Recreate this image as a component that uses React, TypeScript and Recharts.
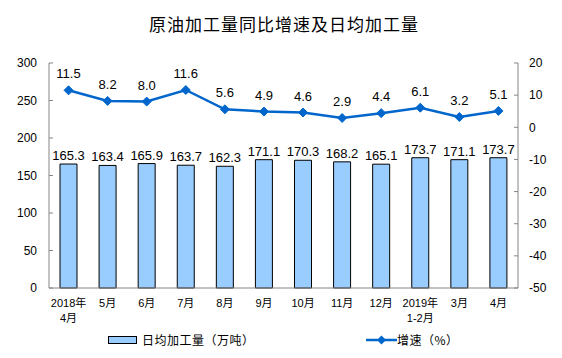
import React from 'react';
import { ComposedChart, Bar, Line, XAxis, YAxis, LabelList } from 'recharts';

const categories = ['2018年|4月', '5月', '6月', '7月', '8月', '9月', '10月', '11月', '12月', '2019年|1-2月', '3月', '4月'];
const dailyOutput = [165.3, 163.4, 165.9, 163.7, 162.3, 171.1, 170.3, 168.2, 165.1, 173.7, 171.1, 173.7];
const growth = [11.5, 8.2, 8.0, 11.6, 5.6, 4.9, 4.6, 2.9, 4.4, 6.1, 3.2, 5.1];
const leftTicks = [0, 50, 100, 150, 200, 250, 300];
const rightTicks = [-50, -40, -30, -20, -10, 0, 10, 20];

const data = categories.map((c, i) => ({ name: c, output: dailyOutput[i], growth: growth[i] }));

const FONT = 'Arial, "Liberation Sans", "Noto Sans CJK SC", sans-serif';
const LINE_COLOR = '#0066CC';
const BAR_FILL = '#99CCFF';
const AXIS_COLOR = '#868686';

const XTick = (props: any) => {
  const { x, y, payload } = props;
  const parts = String(payload.value).split('|');
  return (
    <g transform={`translate(${x},${y})`}>
      {parts.map((p, i) => (
        <text key={i} x={0} y={i * 15} dy={11} textAnchor="middle" fontSize={11} fill="#000" fontFamily={FONT}>
          {p}
        </text>
      ))}
    </g>
  );
};

const Diamond = (props: any) => {
  const { cx, cy } = props;
  if (cx == null || cy == null) return null;
  const r = 4.5;
  return (
    <polygon
      points={`${cx},${cy - r} ${cx + r},${cy} ${cx},${cy + r} ${cx - r},${cy}`}
      fill={LINE_COLOR}
      stroke={LINE_COLOR}
    />
  );
};

export default function App() {
  return (
    <div style={{ position: 'absolute', left: 0, top: 0, width: 562, height: 358, background: '#fff', fontFamily: FONT }}>
      <div
        style={{
          position: 'absolute',
          top: 11,
          left: 0,
          width: 568,
          textAlign: 'center',
          fontSize: 17,
          letterSpacing: 1,
          fontFamily: '"Noto Sans CJK SC", sans-serif',
          color: '#000',
        }}
      >
        原油加工量同比增速及日均加工量
      </div>
      <ComposedChart width={562} height={358} data={data} margin={{ top: 63, right: 0, bottom: 0, left: 0 }}>
        <XAxis
          dataKey="name"
          height={70}
          interval={0}
          tick={<XTick />}
          tickLine={false}
          axisLine={{ stroke: AXIS_COLOR }}
        />
        <YAxis
          yAxisId="left"
          orientation="left"
          width={49}
          domain={[0, 300]}
          ticks={leftTicks}
          interval={0}
          tickSize={-4}
          tickMargin={16}
          tickLine={{ stroke: AXIS_COLOR }}
          axisLine={{ stroke: AXIS_COLOR }}
          tick={{ fontSize: 12, fill: '#000', fontFamily: FONT }}
        />
        <YAxis
          yAxisId="right"
          orientation="right"
          width={44}
          domain={[-50, 20]}
          ticks={rightTicks}
          interval={0}
          tickSize={-4}
          tickMargin={15}
          tickLine={{ stroke: AXIS_COLOR }}
          axisLine={{ stroke: AXIS_COLOR }}
          tick={{ fontSize: 12, fill: '#000', fontFamily: FONT, textAnchor: 'start' }}
        />
        <Bar
          yAxisId="left"
          dataKey="output"
          fill={BAR_FILL}
          stroke="#000"
          strokeWidth={1}
          barSize={17}
          isAnimationActive={false}
        >
          <LabelList dataKey="output" position="top" offset={4} fontSize={13} fill="#000" fontFamily={FONT} />
        </Bar>
        <Line
          yAxisId="right"
          dataKey="growth"
          stroke={LINE_COLOR}
          strokeWidth={2.5}
          dot={<Diamond />}
          activeDot={false}
          isAnimationActive={false}
        >
          <LabelList
            dataKey="growth"
            position="top"
            offset={12}
            fontSize={13}
            fill="#000"
            fontFamily={FONT}
            formatter={(v: any) => Number(v).toFixed(1)}
          />
        </Line>
      </ComposedChart>
      <div style={{ position: 'absolute', top: 331, left: 108, display: 'flex', alignItems: 'center', fontSize: 12, color: '#000' }}>
        <div style={{ width: 27, height: 6, background: BAR_FILL, border: '1px solid #000', marginRight: 5 }} />
        <span style={{ fontFamily: '"Noto Sans CJK SC", sans-serif', letterSpacing: 0.5 }}>日均加工量（万吨）</span>
      </div>
      <div style={{ position: 'absolute', top: 331, left: 366, display: 'flex', alignItems: 'center', fontSize: 12, color: '#000' }}>
        <svg width={31} height={12} style={{ display: 'block' }}>
          <line x1={0} y1={6} x2={31} y2={6} stroke={LINE_COLOR} strokeWidth={2.5} />
          <polygon points="15.5,1.5 20,6 15.5,10.5 11,6" fill={LINE_COLOR} />
        </svg>
        <span style={{ fontFamily: '"Noto Sans CJK SC", sans-serif', letterSpacing: 0.5 }}>增速（%）</span>
      </div>
    </div>
  );
}
